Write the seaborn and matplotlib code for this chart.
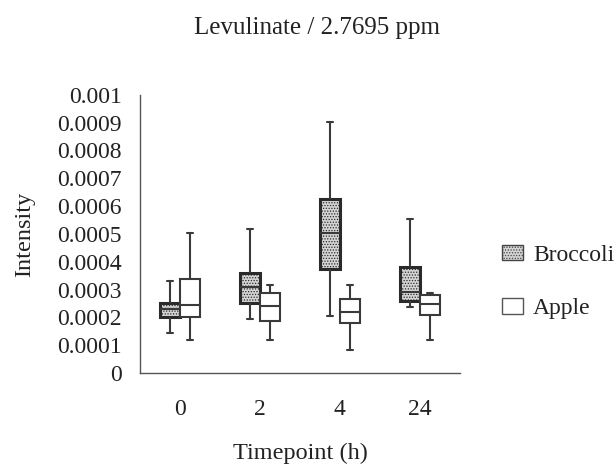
import numpy as np
import pandas as pd
import seaborn as sns
import matplotlib.pyplot as plt
from matplotlib.patches import Patch

# Box summaries: [whisker low, Q1, median, Q3, whisker high]
timepoints = ["0", "2", "4", "24"]
broccoli = [
    [0.000145, 0.000201, 0.000229, 0.000253, 0.000331],
    [0.000195, 0.000251, 0.000310, 0.000360, 0.000517],
    [0.000203, 0.000372, 0.000502, 0.000626, 0.000903],
    [0.000236, 0.000259, 0.000290, 0.000381, 0.000553],
]
apple = [
    [0.000118, 0.000201, 0.000245, 0.000338, 0.000502],
    [0.000118, 0.000187, 0.000239, 0.000289, 0.000317],
    [0.000082, 0.000179, 0.000218, 0.000266, 0.000317],
    [0.000118, 0.000208, 0.000248, 0.000280, 0.000289],
]
yticks = [0, 0.0001, 0.0002, 0.0003, 0.0004, 0.0005, 0.0006, 0.0007, 0.0008, 0.0009, 0.001]
ytick_labels = ["0", "0.0001", "0.0002", "0.0003", "0.0004", "0.0005",
                "0.0006", "0.0007", "0.0008", "0.0009", "0.001"]

# five points per box -> quartiles land exactly on the read values
rows = []
for name, series in [("Broccoli", broccoli), ("Apple", apple)]:
    for tp, vals in zip(timepoints, series):
        for v in vals:
            rows.append({"Timepoint": tp, "Intensity": v, "Sample": name})
df = pd.DataFrame(rows)

sns.set_style("white")
plt.rcParams["font.family"] = ["Liberation Serif", "DejaVu Serif"]
plt.rcParams["text.color"] = "#222222"
plt.rcParams["xtick.color"] = "#222222"
plt.rcParams["ytick.color"] = "#222222"
plt.rcParams["axes.labelcolor"] = "#222222"
plt.rcParams["hatch.color"] = "#555555"
plt.rcParams["hatch.linewidth"] = 0.6

fig = plt.figure(figsize=(6.14, 4.65), dpi=100)
ax = fig.add_axes([0.228, 0.198, 0.521, 0.598])

broc_col = "#d4d4d4"
palette = {"Broccoli": broc_col, "Apple": "white"}
sns.boxplot(data=df, x="Timepoint", y="Intensity", hue="Sample", order=timepoints,
            hue_order=["Broccoli", "Apple"], palette=palette, whis=np.inf,
            width=0.5, gap=0, linecolor="#3a3a3a", linewidth=1.5,
            legend=False, ax=ax)

for p in ax.patches:
    fc = p.get_facecolor()
    if abs(fc[0] - 0.83) < 0.02:
        p.set_hatch("......")
        p.set_linewidth(2.2)
        p.set_edgecolor("#2a2a2a")

# shorter whisker caps
for ln in ax.lines:
    xs, ys = ln.get_xdata(), ln.get_ydata()
    if len(xs) == 2 and ys[0] == ys[1] and abs(xs[1] - xs[0]) < 0.2:
        c = (xs[0] + xs[1]) / 2
        ln.set_xdata([c - 0.04, c + 0.04])

ax.set_ylim(0, 0.001)
ax.set_xlim(-0.5, 3.5)
ax.set_yticks(yticks)
ax.set_yticklabels(ytick_labels, fontsize=17)
ax.tick_params(axis="y", length=0, pad=13)
ax.tick_params(axis="x", length=0, pad=19, labelsize=17)
for s in ["top", "right"]:
    ax.spines[s].set_visible(False)
for s in ["left", "bottom"]:
    ax.spines[s].set_color("#555555")
    ax.spines[s].set_linewidth(1.0)

ax.set_xlabel("Timepoint (h)", fontsize=17.5, labelpad=16)
ax.set_ylabel("Intensity", fontsize=17.5, labelpad=16)
fig.text(0.516, 0.94, "Levulinate / 2.7695 ppm", ha="center", va="center", fontsize=18)

handles = [Patch(facecolor=broc_col, edgecolor="#444444", hatch="......", label="Broccoli"),
           Patch(facecolor="white", edgecolor="#555555", label="Apple")]
fig.legend(handles=handles, loc="center left", bbox_to_anchor=(0.802, 0.394),
           frameon=False, fontsize=17, labelspacing=1.36, handlelength=0.9,
           handleheight=0.65, handletextpad=0.42, borderaxespad=0)

fig.savefig("out.png", dpi=100)
